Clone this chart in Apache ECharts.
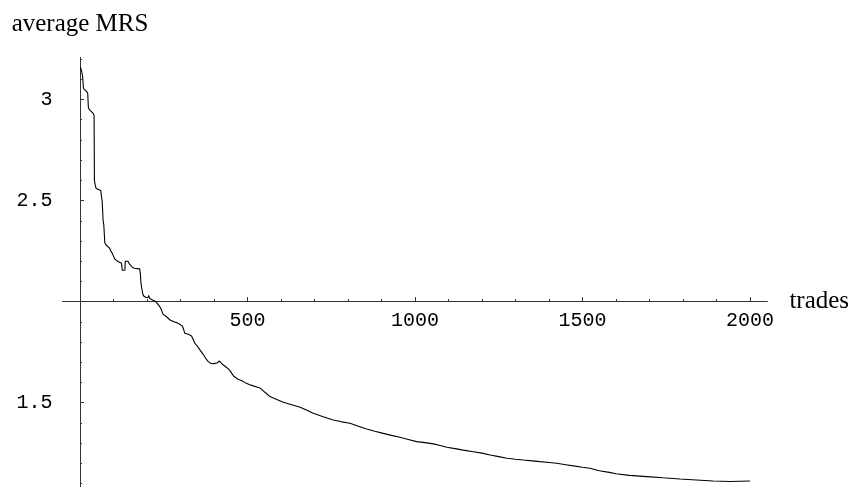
<!DOCTYPE html>
<html><head><meta charset="utf-8">
<script src="https://cdn.jsdelivr.net/npm/echarts@6/dist/echarts.min.js"></script>
<style>html,body{margin:0;padding:0;background:#fff}#c{width:853px;height:489px}</style>
</head><body><div id="c"></div>
<script>
const trades = [1,5,8,10,12,20,23,25,28,34,40,42,43,45,48,62,64,66,69,71,74,78,88,92,96,104,112,124,126,134,135,143,148,156,162,178,180,182,187,190,197,203,205,208,214,219,226,231,236,241,245,248,258,269,280,289,300,306,313,323,333,343,350,358,365,371,377,383,390,400,410,416,425,433,446,453,460,472,483,493,505,517,528,539,553,567,587,607,632,657,676,696,726,756,781,806,831,856,880,905,930,955,980,1005,1030,1055,1075,1095,1124,1144,1174,1200,1224,1250,1274,1300,1323,1350,1373,1400,1423,1450,1473,1500,1522,1550,1580,1600,1640,1692,1740,1791,1840,1890,1940,2000];
const avgMRS = [3.16,3.14,3.11,3.06,3.05,3.04,3.03,2.96,2.95,2.94,2.93,2.92,2.60,2.58,2.56,2.55,2.52,2.50,2.40,2.38,2.29,2.28,2.265,2.25,2.24,2.21,2.20,2.19,2.155,2.155,2.20,2.20,2.185,2.17,2.165,2.162,2.14,2.09,2.04,2.028,2.02,2.02,2.03,2.015,2.01,2.003,2.0,1.992,1.98,1.967,1.95,1.938,1.925,1.909,1.90,1.896,1.885,1.878,1.843,1.838,1.83,1.794,1.78,1.761,1.745,1.731,1.715,1.703,1.695,1.693,1.697,1.706,1.69,1.68,1.662,1.645,1.629,1.616,1.608,1.599,1.59,1.583,1.577,1.571,1.55,1.53,1.515,1.502,1.49,1.477,1.463,1.447,1.43,1.414,1.405,1.398,1.383,1.37,1.358,1.348,1.338,1.329,1.318,1.307,1.302,1.296,1.288,1.279,1.271,1.265,1.257,1.25,1.241,1.233,1.225,1.22,1.216,1.212,1.208,1.204,1.2,1.193,1.187,1.18,1.175,1.163,1.155,1.148,1.14,1.134,1.128,1.122,1.117,1.112,1.11,1.112];

const xMinorTicks = [100,200,300,400,500,600,700,800,900,1000,1100,1200,1300,1400,1500,1600,1700,1800,1900,2000];
const xMajorTicks = [500,1000,1500,2000];
const xTickLabels = [500,1000,1500,2000];
const yMinorTicks = [1.1,1.2,1.3,1.4,1.5,1.6,1.7,1.8,1.9,2.0,2.1,2.2,2.3,2.4,2.5,2.6,2.7,2.8,2.9,3.0,3.1,3.2];
const yMajorTicks = [1.5,2.0,2.5,3.0];
const yTickLabels = [1.5,2.5,3];
const xRange = [-52, 2052];
const yRange = [1.084, 3.209];
const axisCrossY = 2;
const xName = 'trades';
const yName = 'average MRS';

const grid = {left: 62.6, top: 57.3, width: 704.8, height: 429.4};
const xOffset = -grid.height * (axisCrossY - yRange[0]) / (yRange[1] - yRange[0]);

const lineStyle = {color: '#333', width: 1};
const labelFont = {fontFamily: 'Liberation Mono', fontSize: 20, color: '#000'};
const nameFont = {fontFamily: 'Liberation Serif', fontSize: 25, color: '#000'};
const plain = v => String(v);

const chart = echarts.init(document.getElementById('c'), null, {renderer: 'canvas'});
chart.setOption({
  animation: false,
  backgroundColor: '#fff',
  grid: Object.assign({containLabel: false}, grid),
  xAxis: [
    {type: 'value', min: xRange[0], max: xRange[1], position: 'bottom', offset: xOffset,
     axisLine: {show: true, onZero: false, lineStyle: lineStyle},
     axisTick: {show: true, inside: true, length: 2.5, customValues: xMinorTicks, lineStyle: lineStyle},
     axisLabel: {show: false}, splitLine: {show: false}},
    {type: 'value', min: xRange[0], max: xRange[1], position: 'bottom', offset: xOffset,
     axisLine: {show: false, onZero: false},
     axisTick: {show: true, inside: true, length: 4.5, customValues: xMajorTicks, lineStyle: lineStyle},
     axisLabel: Object.assign({show: true, margin: 9, customValues: xTickLabels, formatter: plain}, labelFont),
     splitLine: {show: false},
     name: xName, nameLocation: 'end', nameGap: 22,
     nameTextStyle: Object.assign({verticalAlign: 'middle', padding: [0,0,4,0]}, nameFont)}
  ],
  yAxis: [
    {type: 'value', min: yRange[0], max: yRange[1], position: 'left',
     axisLine: {show: true, onZero: true, onZeroAxisIndex: 0, lineStyle: lineStyle},
     axisTick: {show: true, inside: true, length: 2, customValues: yMinorTicks, lineStyle: lineStyle},
     axisLabel: {show: false}, splitLine: {show: false}},
    {type: 'value', min: yRange[0], max: yRange[1], position: 'left',
     axisLine: {show: false, onZero: true, onZeroAxisIndex: 0},
     axisTick: {show: true, inside: true, length: 4, customValues: yMajorTicks, lineStyle: lineStyle},
     axisLabel: Object.assign({show: true, margin: 10, customValues: yTickLabels, formatter: plain}, labelFont),
     splitLine: {show: false},
     name: yName, nameLocation: 'end', nameGap: 20,
     nameTextStyle: Object.assign({align: 'center'}, nameFont)}
  ],
  series: [{
    type: 'line', xAxisIndex: 0, yAxisIndex: 0, symbol: 'none', smooth: false,
    lineStyle: {color: '#000', width: 1.1},
    data: trades.map((t, i) => [t, avgMRS[i]])
  }]
});
</script></body></html>
